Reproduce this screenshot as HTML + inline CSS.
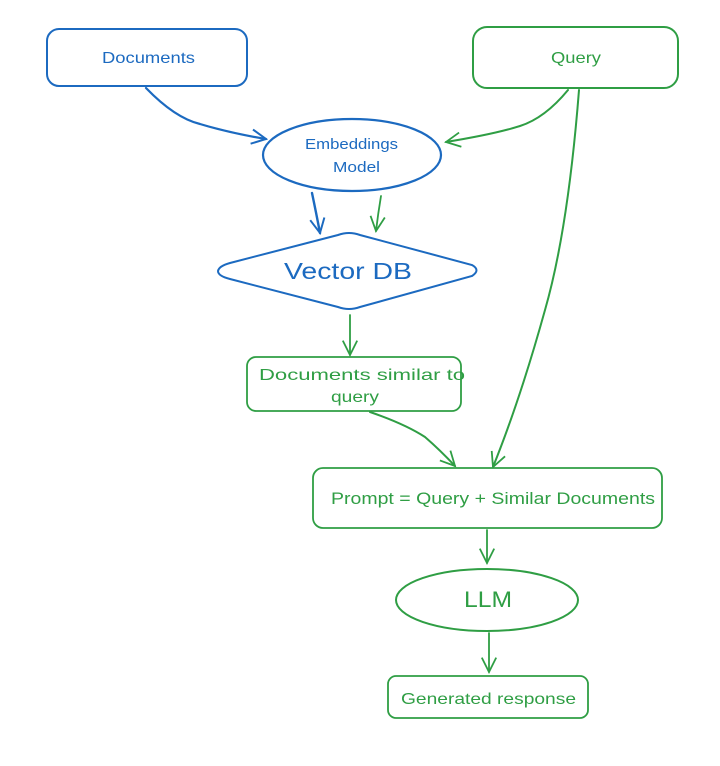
<!DOCTYPE html>
<html><head><meta charset="utf-8"><style>
html,body{margin:0;padding:0;background:#fff;}
svg{display:block;}
text{font-family:"Liberation Sans",sans-serif;}
</style></head><body>
<svg width="720" height="766" viewBox="0 0 720 766" xmlns="http://www.w3.org/2000/svg">
<defs>
<marker id="ab" viewBox="0 0 20 20" refX="18" refY="10" markerWidth="18" markerHeight="18" markerUnits="userSpaceOnUse" orient="auto"><path d="M2,2 L18,10 L2,18" fill="none" stroke="#1c6ac0" stroke-width="2.2"/></marker>
<marker id="ag" viewBox="0 0 20 20" refX="18" refY="10" markerWidth="18" markerHeight="18" markerUnits="userSpaceOnUse" orient="auto"><path d="M2,2 L18,10 L2,18" fill="none" stroke="#2f9e44" stroke-width="2"/></marker>
</defs>
<g fill="none" stroke-linecap="round">
<rect x="47" y="29" width="200" height="57" rx="12" stroke="#1c6ac0" stroke-width="2"/>
<ellipse cx="352" cy="155" rx="89" ry="36" stroke="#1c6ac0" stroke-width="2.2"/>
<path d="M218,271 Q219,266 230,263 L338,235 Q349,231 360,235 L472,265 Q481,270 472,276 L360,307 Q349,311 338,307 L230,279 Q218,276 218,271 Z" stroke="#1c6ac0" stroke-width="2"/>
<rect x="473" y="27" width="205" height="61" rx="14" stroke="#2f9e44" stroke-width="2"/>
<rect x="247" y="357" width="214" height="54" rx="9" stroke="#2f9e44" stroke-width="1.8"/>
<rect x="313" y="468" width="349" height="60" rx="10" stroke="#2f9e44" stroke-width="1.8"/>
<ellipse cx="487" cy="600" rx="91" ry="31" stroke="#2f9e44" stroke-width="2"/>
<rect x="388" y="676" width="200" height="42" rx="8" stroke="#2f9e44" stroke-width="1.8"/>
<path d="M146,88 Q175,118 200,124 Q230,133 266,139" stroke="#1c6ac0" stroke-width="2.2" marker-end="url(#ab)"/>
<path d="M312,193 Q316,212 320,233" stroke="#1c6ac0" stroke-width="2.4" marker-end="url(#ab)"/>
<path d="M568,90 Q545,118 520,126 Q495,134 446,142" stroke="#2f9e44" stroke-width="2" marker-end="url(#ag)"/>
<path d="M381,196 Q378,214 376,231" stroke="#2f9e44" stroke-width="1.8" marker-end="url(#ag)"/>
<path d="M350,315 L350,355" stroke="#2f9e44" stroke-width="1.8" marker-end="url(#ag)"/>
<path d="M579,90 Q568,230 545,310 Q520,400 493,467" stroke="#2f9e44" stroke-width="2" marker-end="url(#ag)"/>
<path d="M370,412 Q405,424 425,437 Q440,450 455,466" stroke="#2f9e44" stroke-width="2" marker-end="url(#ag)"/>
<path d="M487,530 L487,563" stroke="#2f9e44" stroke-width="1.8" marker-end="url(#ag)"/>
<path d="M489,633 L489,672" stroke="#2f9e44" stroke-width="1.8" marker-end="url(#ag)"/>
</g>
<g>
<text x="102" y="63" font-size="16" fill="#1c6ac0" textLength="93" lengthAdjust="spacingAndGlyphs">Documents</text>
<text x="551" y="63" font-size="16" fill="#2f9e44" textLength="50" lengthAdjust="spacingAndGlyphs">Query</text>
<text x="305" y="149" font-size="15" fill="#1c6ac0" textLength="93" lengthAdjust="spacingAndGlyphs">Embeddings</text>
<text x="333" y="172" font-size="15" fill="#1c6ac0" textLength="47" lengthAdjust="spacingAndGlyphs">Model</text>
<text x="284" y="279" font-size="23" fill="#1c6ac0" textLength="128" lengthAdjust="spacingAndGlyphs">Vector DB</text>
<text x="259" y="380" font-size="16" fill="#2f9e44" textLength="206" lengthAdjust="spacingAndGlyphs">Documents similar to</text>
<text x="331" y="402" font-size="16" fill="#2f9e44" textLength="48" lengthAdjust="spacingAndGlyphs">query</text>
<text x="331" y="504" font-size="17" fill="#2f9e44" textLength="324" lengthAdjust="spacingAndGlyphs">Prompt = Query + Similar Documents</text>
<text x="464" y="607" font-size="22" fill="#2f9e44" textLength="48" lengthAdjust="spacingAndGlyphs">LLM</text>
<text x="401" y="704" font-size="16" fill="#2f9e44" textLength="175" lengthAdjust="spacingAndGlyphs">Generated response</text>
</g>
</svg>
</body></html>
